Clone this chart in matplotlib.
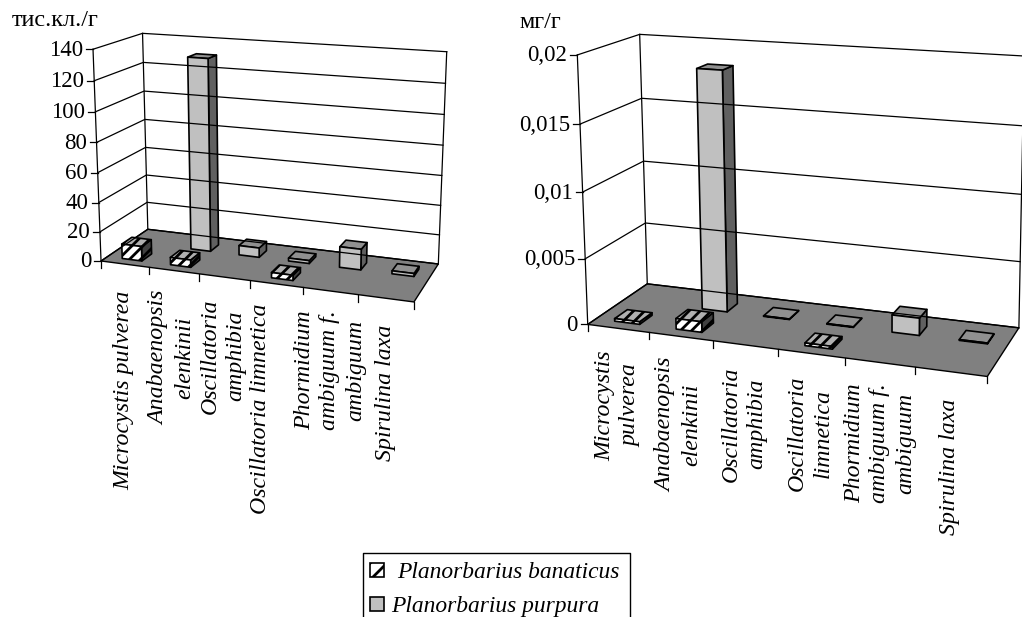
import numpy as np
import matplotlib
matplotlib.use("Agg")
import matplotlib.pyplot as plt
from matplotlib.patches import Polygon, Rectangle

plt.rcParams['font.family'] = ['Liberation Serif', 'DejaVu Serif']
plt.rcParams['hatch.linewidth'] = 2.0

labels_left = ["Microcystis pulverea", "Anabaenopsis\nelenkinii", "Oscillatoria\namphibia",
               "Oscillatoria limnetica", "Phormidium\nambiguum f.\nambiguum", "Spirulina laxa"]
labels_right = ["Microcystis\npulverea", "Anabaenopsis\nelenkinii", "Oscillatoria\namphibia",
                "Oscillatoria\nlimnetica", "Phormidium\nambiguum f.\nambiguum", "Spirulina laxa"]

banaticus_left = [10, 5, 0, 3.5, 0, 0]
purpura_left = [0, 131, 6.5, 2, 14, 2]
banaticus_right = [0.0002, 0.0008, 0, 0.0002, 0, 0]
purpura_right = [0, 0.0184, 0.00004, 0.00004, 0.0013, 0.00006]

ticks_left = [0, 20, 40, 60, 80, 100, 120, 140]
ticklabels_left = ["0", "20", "40", "60", "80", "100", "120", "140"]
ticks_right = [0, 0.005, 0.01, 0.015, 0.02]
ticklabels_right = ["0", "0,005", "0,01", "0,015", "0,02"]

series_names = ["Planorbarius banaticus", "Planorbarius purpura"]

# box points in pixels, keyed by (category, value 0-1, depth 0-1)
box_left = {(0, 0, 0): (101.7, 260.7), (6, 0, 0): (414, 301.7), (0, 0, 1): (147.7, 229.3),
            (6, 0, 1): (438.3, 264), (0, 1, 0): (93.3, 49.3), (0, 1, 1): (142.7, 33.3),
            (6, 1, 1): (446.7, 51.7), (3, 0, 0): (250.3, 281), (0, 3 / 7, 0): (96.7, 172.7)}
box_right = {(0, 0, 0): (588, 324), (6, 0, 0): (987.3, 376.7), (0, 0, 1): (647, 284),
             (6, 0, 1): (1019, 327.7), (0, 1, 0): (577.3, 54.7), (0, 1, 1): (640, 34.3),
             (6, 1, 1): (1024, 56), (3, 0, 0): (778, 349), (0, 0.5, 0): (582.3, 192.7)}

# label centres in pixels
labelpos_left = [(124, 390), (172, 358), (223, 356), (260, 409), (330, 370), (385, 393)]
labelpos_right = [(618, 406), (679, 425), (744, 424), (810, 433), (880, 443), (950, 467)]


def fit_projection(box):
    """projective map from (category, value 0-1, depth 0-1) to pixels"""
    rows, rhs = [], []
    for (x, y, z), (u, v) in box.items():
        rows.append([x, y, z, 1, 0, 0, 0, 0, -u * x, -u * y, -u * z])
        rows.append([0, 0, 0, 0, x, y, z, 1, -v * x, -v * y, -v * z])
        rhs += [u, v]
    p = np.linalg.lstsq(np.array(rows), np.array(rhs), rcond=None)[0]
    P = np.append(p, 1).reshape(3, 4)

    def project(x, y, z):
        h = P @ np.array([x, y, z, 1.0])
        return h[0] / h[2], h[1] / h[2]
    return project


def draw_bar(ax, project, cat, val, z0, z1, colors, hatch=None):
    x0, x1 = cat + 0.31, cat + 0.72
    front = [project(x0, 0, z0), project(x1, 0, z0), project(x1, val, z0), project(x0, val, z0)]
    side = [project(x1, 0, z0), project(x1, 0, z1), project(x1, val, z1), project(x1, val, z0)]
    top = [project(x0, val, z0), project(x1, val, z0), project(x1, val, z1), project(x0, val, z1)]
    for pts, col in zip((side, top, front), colors):
        ax.add_patch(Polygon(pts, closed=True, facecolor=col, edgecolor='black', lw=1.2,
                             hatch=hatch, joinstyle='round'))


def draw_chart(ax, box, names, labelpos, banaticus, purpura, ticks, ticklabels, title, title_xy):
    project = fit_projection(box)
    ymax = ticks[-1]

    ax.add_patch(Polygon([project(0, 0, 0), project(6, 0, 0), project(6, 0, 1), project(0, 0, 1)],
                         closed=True, facecolor='#808080', edgecolor='black', lw=1))

    # walls and gridlines
    for t, lab in zip(ticks, ticklabels):
        v = t / ymax
        pts = [project(0, v, 0), project(0, v, 1), project(6, v, 1)]
        ax.plot(*zip(*pts), color='black', lw=0.9)
        tx, ty = pts[0]
        ax.plot([tx - 7, tx], [ty, ty], color='black', lw=0.9)
        ax.text(tx - 10, ty + 1, lab, ha='right', va='center', fontsize=16.5)
    ax.plot(*zip(project(0, 0, 0), project(0, 1, 0)), color='black', lw=0.9)
    ax.plot(*zip(project(0, 0, 1), project(0, 1, 1)), color='black', lw=0.9)
    ax.plot(*zip(project(6, 0, 1), project(6, 1, 1)), color='black', lw=0.9)

    # category ticks and labels
    for i in range(7):
        tx, ty = project(i, 0, 0)
        ax.plot([tx, tx], [ty, ty + 7], color='black', lw=0.9)
    for name, (lx, ly) in zip(names, labelpos):
        ax.text(lx, ly, name, rotation=90, ha='center', va='center', multialignment='center',
                style='italic', fontsize=17.2, linespacing=1.3)

    # back row first so the front row paints over it
    for i, val in enumerate(purpura):
        if val > 0:
            draw_bar(ax, project, i, val / ymax, 0.60, 0.80, ('#606060', '#909090', '#C0C0C0'))
    for i, val in enumerate(banaticus):
        if val > 0:
            draw_bar(ax, project, i, val / ymax, 0.13, 0.34, ('#404040', '#B0B0B0', 'white'), hatch='///')

    ax.text(title_xy[0], title_xy[1], title, ha='left', va='center', fontsize=17.5)


fig = plt.figure(figsize=(10.22, 6.17), dpi=100)
ax = fig.add_axes([0, 0, 1, 1])
ax.set_xlim(0, 1022)
ax.set_ylim(617, 0)
ax.axis('off')

draw_chart(ax, box_left, labels_left, labelpos_left, banaticus_left, purpura_left,
           ticks_left, ticklabels_left, "тис.кл./г", (12, 21))
draw_chart(ax, box_right, labels_right, labelpos_right, banaticus_right, purpura_right,
           ticks_right, ticklabels_right, "мг/г", (519, 22))

# legend, cut off by the bottom of the picture as in the original
ax.plot([363, 363, 630, 630], [617, 553, 553, 617], color='black', lw=1)
ax.add_patch(Rectangle((370, 563), 14, 14, facecolor='white', edgecolor='black', lw=1.2, hatch='//'))
ax.add_patch(Rectangle((370, 597), 14, 14, facecolor='#C0C0C0', edgecolor='black', lw=1.2))
ax.text(397, 578, series_names[0], style='italic', fontsize=16.9, ha='left', va='baseline')
ax.text(391, 612, series_names[1], style='italic', fontsize=16.9, ha='left', va='baseline')

fig.savefig("out.png", dpi=100)
